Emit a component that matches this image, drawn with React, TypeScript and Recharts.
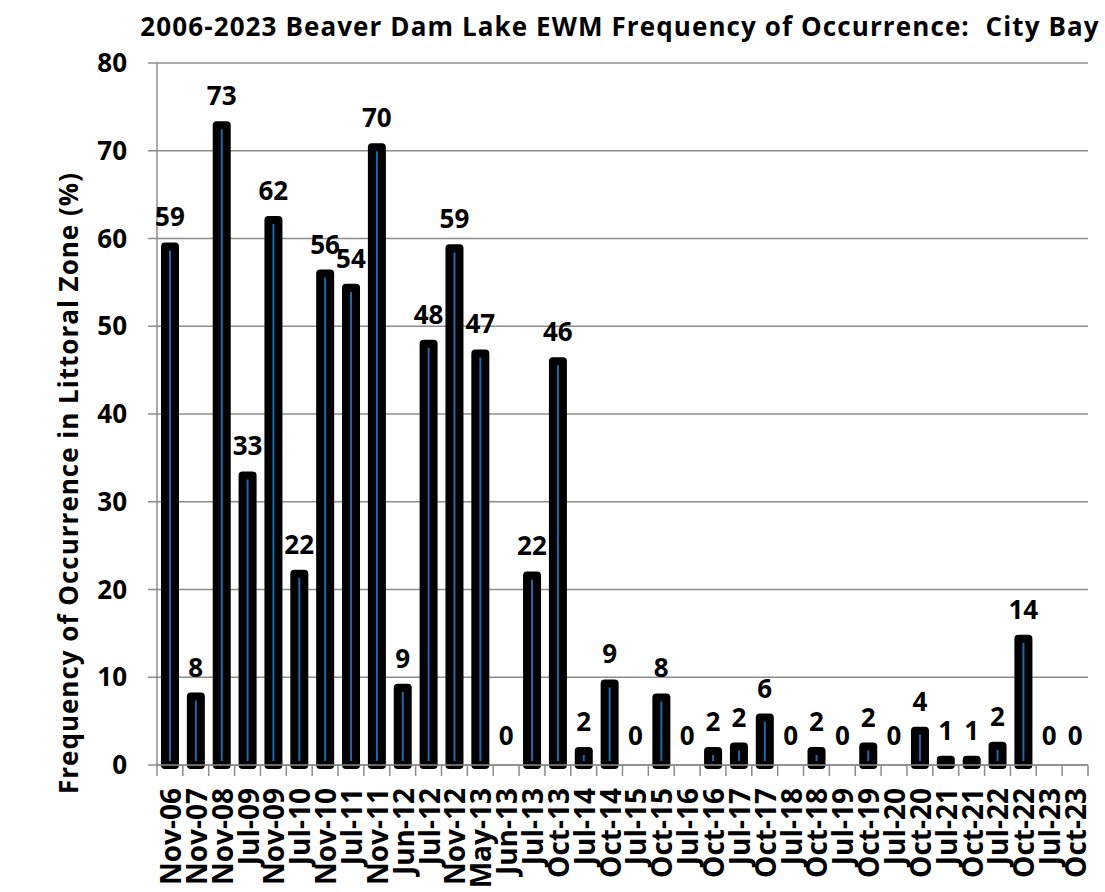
import { ComposedChart, Bar, Line, XAxis, YAxis, CartesianGrid, LabelList } from 'recharts';

const categories = [
  'Nov-06', 'Nov-07', 'Nov-08', 'Jul-09', 'Nov-09', 'Jul-10', 'Nov-10', 'Jul-11', 'Nov-11',
  'Jun-12', 'Jul-12', 'Nov-12', 'May-13', 'Jun-13', 'Jul-13', 'Oct-13', 'Jul-14', 'Oct-14',
  'Jul-15', 'Oct-15', 'Jul-16', 'Oct-16', 'Jul-17', 'Oct-17', 'Jul-18', 'Oct-18', 'Jul-19',
  'Oct-19', 'Jul-20', 'Oct-20', 'Jul-21', 'Oct-21', 'Jul-22', 'Oct-22', 'Jul-23', 'Oct-23',
];

const frequency = [
  59.1, 7.8, 72.9, 33.0, 62.1, 21.8, 56.0, 54.4, 70.4,
  8.8, 48.0, 58.9, 46.9, 0, 21.6, 46.0, 1.6, 9.3,
  0, 7.7, 0, 1.6, 2.1, 5.4, 0, 1.6, 0,
  2.1, 0, 3.9, 0.6, 0.6, 2.2, 14.4, 0, 0,
];

const valueLabels = [
  '59', '8', '73', '33', '62', '22', '56', '54', '70',
  '9', '48', '59', '47', '0', '22', '46', '2', '9',
  '0', '8', '0', '2', '2', '6', '0', '2', '0',
  '2', '0', '4', '1', '1', '2', '14', '0', '0',
];

const yTicks = [0, 10, 20, 30, 40, 50, 60, 70, 80];

const data = categories.map((name, i) => ({ name, value: frequency[i], label: valueLabels[i] }));

const FONT = '"Open Sans", "Noto Sans", sans-serif';
const GRID = '#8c8c8c';

function CategoryTick(props: any) {
  const { x, y, payload, index } = props;
  const half = payload && payload.offset ? payload.offset : 12.93;
  return (
    <g>
      <line x1={x - half} y1={y - 8} x2={x - half} y2={y + 3} stroke={GRID} strokeWidth={1.5} />
      {index === categories.length - 1 && (
        <line x1={x + half} y1={y - 8} x2={x + half} y2={y + 3} stroke={GRID} strokeWidth={1.5} />
      )}
      <text
        x={x}
        y={y + 15}
        transform={`rotate(-90, ${x}, ${y + 15})`}
        textAnchor="end"
        dominantBaseline="central"
        fontFamily={FONT}
        fontWeight={700}
        fontSize={28}
        fill="#000"
      >
        {payload.value}
      </text>
    </g>
  );
}

function TopLabel(props: any) {
  const { x, y, width, value } = props;
  return (
    <text
      x={x + (width || 0) / 2}
      y={y - 20}
      textAnchor="middle"
      fontFamily={FONT}
      fontWeight={700}
      fontSize={26}
      fill="#000"
    >
      {value}
    </text>
  );
}

export default function App() {
  return (
    <div style={{ position: 'absolute', left: 0, top: 0, width: 1105, height: 892, background: '#fff' }}>
      <div
        style={{
          position: 'absolute',
          left: 620,
          top: 8,
          transform: 'translateX(-50%)',
          whiteSpace: 'nowrap',
          fontFamily: FONT,
          fontWeight: 700,
          fontSize: 26,
          letterSpacing: 1.1,
          color: '#000',
        }}
      >
        2006-2023 Beaver Dam Lake EWM Frequency of Occurrence:&nbsp; City Bay
      </div>
      <div
        style={{
          position: 'absolute',
          left: 68,
          top: 483,
          transform: 'translate(-50%, -50%) rotate(-90deg)',
          whiteSpace: 'nowrap',
          fontFamily: FONT,
          fontWeight: 700,
          fontSize: 26,
          letterSpacing: 1,
          color: '#000',
        }}
      >
        Frequency of Occurrence in Littoral Zone (%)
      </div>
      <ComposedChart
        width={1105}
        height={892}
        data={data}
        margin={{ top: 63, right: 17, bottom: 0, left: 0 }}
        barSize={10}
      >
        <CartesianGrid vertical={false} stroke={GRID} strokeWidth={1.5} />
        <XAxis
          dataKey="name"
          interval={0}
          height={127}
          axisLine={{ stroke: GRID, strokeWidth: 1.5 }}
          tickLine={false}
          tick={<CategoryTick />}
        />
        <YAxis
          width={157}
          domain={[0, 80]}
          ticks={yTicks}
          interval={0}
          axisLine={{ stroke: GRID, strokeWidth: 1.5 }}
          tickLine={{ stroke: GRID, strokeWidth: 1.5 }}
          tickSize={9}
          tickMargin={21}
          tick={{ fontFamily: FONT, fontWeight: 700, fontSize: 26, fill: '#000' }}
        />
        <Bar
          dataKey="value"
          fill="#1f66aa"
          stroke="#000"
          strokeWidth={8}
          strokeLinejoin="round"
          isAnimationActive={false}
        />
        <Line
          dataKey="value"
          stroke="none"
          dot={false}
          activeDot={false}
          legendType="none"
          isAnimationActive={false}
        >
          <LabelList dataKey="label" content={<TopLabel />} />
        </Line>
      </ComposedChart>
    </div>
  );
}
